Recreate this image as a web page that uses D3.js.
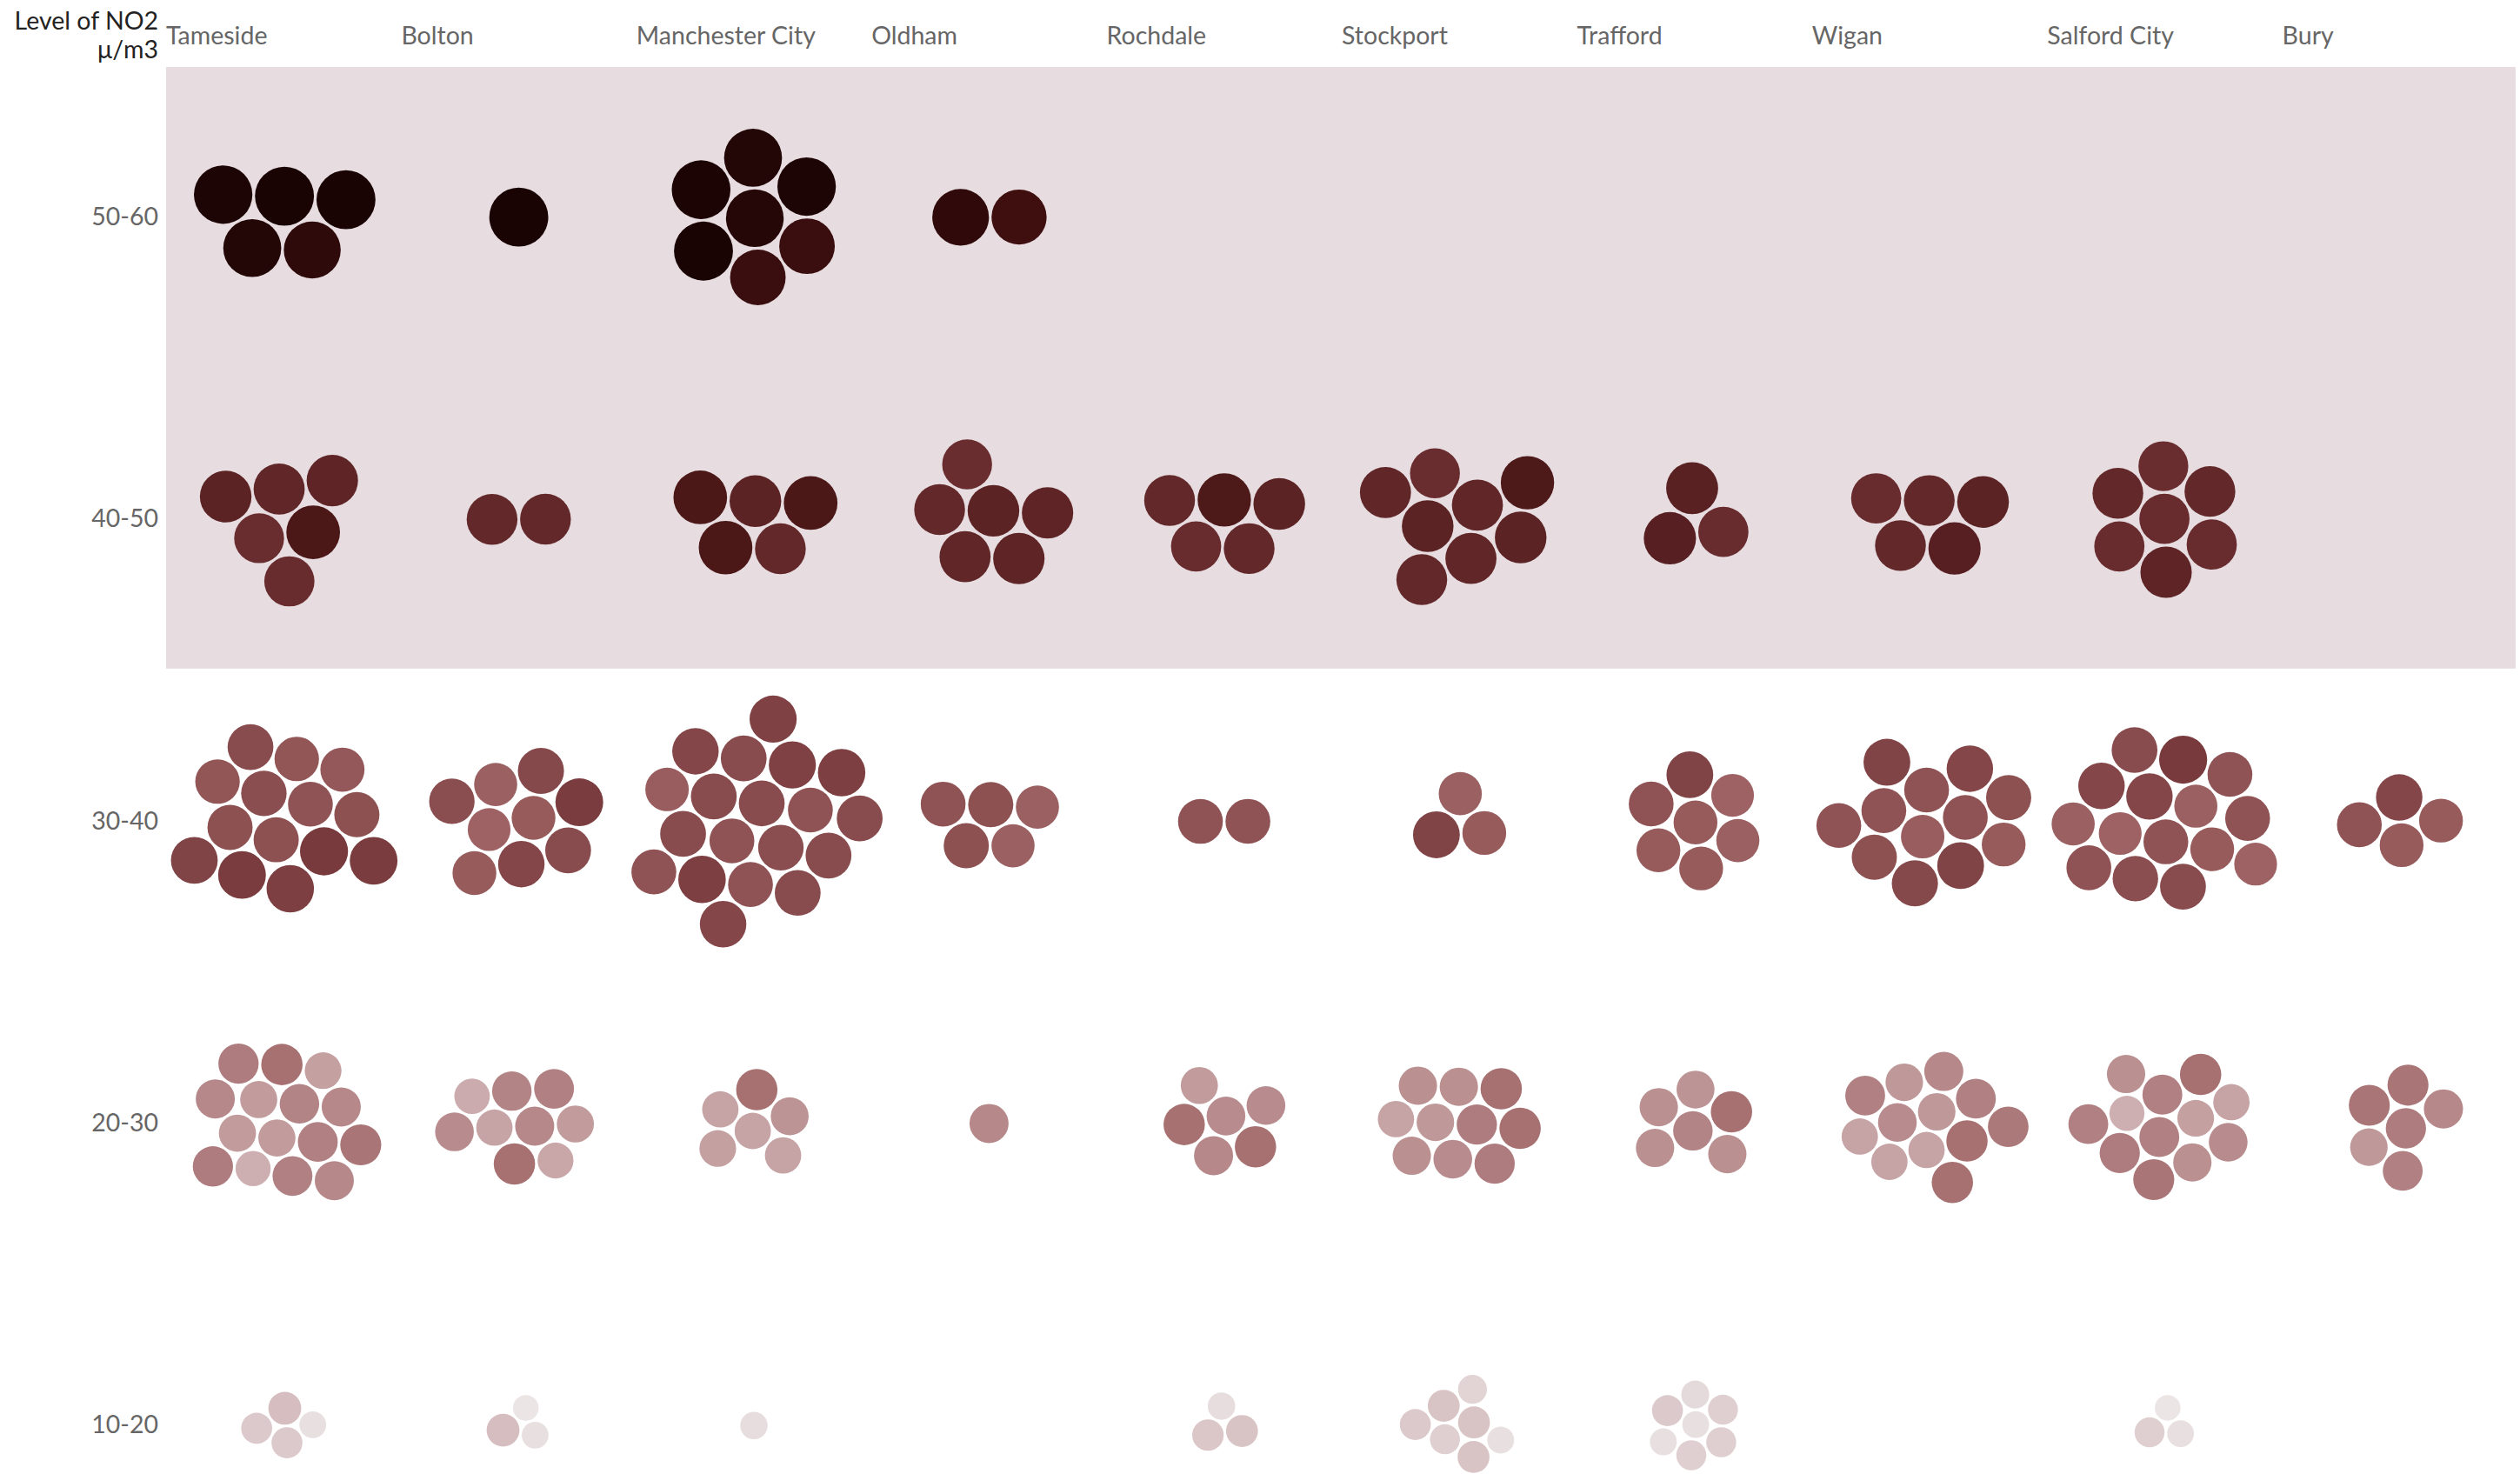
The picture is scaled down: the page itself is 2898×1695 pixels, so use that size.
<!DOCTYPE html>
<html>
<head>
<meta charset="utf-8">
<script src="https://cdn.jsdelivr.net/npm/d3@7"></script>
<style>
  body { margin: 0; background: #fff; }
  text { font-family: Lato, "Open Sans", sans-serif; }
</style>
</head>
<body>
<div id="chart"></div>
<script>
var boroughs = ["Tameside", "Bolton", "Manchester City", "Oldham", "Rochdale",
                "Stockport", "Trafford", "Wigan", "Salford City", "Bury"];
var bands = ["50-60", "40-50", "30-40", "20-30", "10-20"];

// NO2 readings per site, one list per borough (same order as boroughs)
var no2_50_60 = [
  [58, 56, 58, 54, 57],
  [58],
  [55.5, 58, 56, 51.5, 57.5, 57, 51.5],
  [50.5, 53.5],
  [], [], [], [], [], []
];
var no2_40_50 = [
  [48, 41.5, 43.5, 42, 44.5, 44],
  [43, 43],
  [48, 48, 44.5, 43, 48],
  [44.5, 43.5, 41.5, 44, 43, 44],
  [44.5, 42, 47.5, 43, 43],
  [44.5, 44.5, 43.5, 43.5, 43.5, 47.5, 43, 41.5],
  [42, 45.5, 45],
  [44.5, 43, 43, 45.5, 42],
  [42, 42, 41.5, 42, 43, 43, 44],
  []
];
var no2_30_40 = [
  [33.5, 34, 34.5, 38.5, 34, 32.5, 38, 35, 38, 36.5, 33, 37.5, 33, 34],
  [32, 30.5, 35.5, 36, 34.5, 38, 32, 31, 35],
  [34.5, 33.5, 35, 33.5, 35, 33.5, 37.5, 35, 35, 35, 37, 36, 36, 35, 33.5, 37, 35, 31.5, 37.5],
  [31, 34, 34, 31, 33.5],
  [33.5, 33.5],
  [32, 36.5, 31],
  [32, 32, 36.5, 31, 33.5, 30.5, 32],
  [33.5, 31.5, 33.5, 36.5, 33.5, 34, 34, 36.5, 32, 33.5, 36, 35.5],
  [31, 33.5, 36, 32, 30.5, 33.5, 34.5, 35, 30.5, 31, 38.5, 35, 36, 33.5, 33.5],
  [32, 33.5, 36, 32]
];
var no2_20_30 = [
  [26, 23, 23, 26.5, 23, 22.5, 26.5, 27, 28, 27, 28.5, 25.5, 25.5, 25.5, 20.5],
  [25.5, 22, 26, 21.5, 25, 26.5, 28.5, 21, 23],
  [22, 22.5, 28.5, 22, 22, 24],
  [25.5],
  [25, 25.5, 23, 28.5, 28.5, 25],
  [27, 23.5, 24.5, 27, 22, 28.5, 25, 24.5, 28.5, 24.5],
  [26, 24.5, 24, 24.5, 24.5, 28.5],
  [23.5, 22, 23.5, 28.5, 25, 26.5, 22, 26.5, 27.5, 22, 25.5, 28.5],
  [22.5, 26.5, 26.5, 24.5, 20.5, 22, 27, 24.5, 25, 26.5, 28.5, 28],
  [27, 23.5, 28, 26.5, 28, 25.5]
];
var no2_10_20 = [
  [12, 16, 18, 16],
  [12, 18, 11],
  [12.5],
  [],
  [17, 16.5, 12.5],
  [17, 15, 17, 12, 16, 14, 17],
  [12, 12, 13, 15, 16, 15, 15],
  [],
  [12, 15, 11],
  []
];
var readings = [no2_50_60, no2_40_50, no2_30_40, no2_20_30, no2_10_20];

var width = 2898, height = 1695;

var svg = d3.select("#chart").append("svg")
  .attr("width", width)
  .attr("height", height);

var x = d3.scaleBand().domain(boroughs).range([191, 2895]);
var y = d3.scaleBand().domain(bands).range([76, 1813]);

var r = d3.scaleSqrt().domain([0, 60]).range([0, 34.5]);
var color = d3.scaleLinear()
  .domain([10, 20, 30, 40, 50, 60])
  .range(["#eeeaeb", "#d0b3b5", "#a06566", "#713235", "#421010", "#0f0000"]);

// shaded area for levels above 40
svg.append("rect")
  .attr("x", x.range()[0])
  .attr("y", y("50-60") + 1)
  .attr("width", x.range()[1] - x.range()[0] - 2)
  .attr("height", y("40-50") + y.bandwidth() - y("50-60") - 3)
  .style("fill", "#e7dde1");

// column labels
var xAxis = svg.append("g")
  .attr("transform", "translate(0,41)")
  .call(d3.axisTop(x).tickSize(0).tickPadding(0));
xAxis.select(".domain").remove();
xAxis.selectAll("text")
  .attr("x", -x.bandwidth() / 2)
  .attr("y", 0)
  .attr("dy", "0.35em")
  .attr("text-anchor", "start")
  .style("font-size", "28.5px")
  .style("fill", "#666")
  .style("font-family", "Lato, sans-serif");

// row labels
var yAxis = svg.append("g")
  .attr("transform", "translate(182,0)")
  .call(d3.axisLeft(y).tickSize(0).tickPadding(0));
yAxis.select(".domain").remove();
yAxis.selectAll("text")
  .style("font-size", "28.5px")
  .style("fill", "#666")
  .style("font-family", "Lato, sans-serif");

// header
svg.append("text")
  .attr("x", 182).attr("y", 24).attr("dy", "0.35em")
  .attr("text-anchor", "end")
  .style("font-size", "28.5px").style("fill", "#222")
  .text("Level of NO2");
svg.append("text")
  .attr("x", 182).attr("y", 57).attr("dy", "0.35em")
  .attr("text-anchor", "end")
  .style("font-size", "28.5px").style("fill", "#222")
  .text("μ/m3");

// one packed cluster per borough and band
bands.forEach(function(band, bi) {
  boroughs.forEach(function(b, ci) {
    var nodes = readings[bi][ci].map(function(v) { return { value: v, r: r(v) }; });
    if (nodes.length == 0) return;

    var sim = d3.forceSimulation(nodes)
      .alphaDecay(0.01)
      .force("x", d3.forceX(0).strength(0.07))
      .force("y", d3.forceY(0).strength(0.1))
      .force("collide", d3.forceCollide(function(d) { return d.r + 1.5; }).iterations(4))
      .stop();
    for (var i = 0; i < 700; i++) sim.tick();

    svg.append("g")
      .attr("transform", "translate(" + (x(b) + x.bandwidth() / 2) + "," + (y(band) + y.bandwidth() / 2) + ")")
      .selectAll("circle")
      .data(nodes)
      .enter()
      .append("circle")
        .attr("cx", function(d) { return d.x; })
        .attr("cy", function(d) { return d.y; })
        .attr("r", function(d) { return d.r; })
        .style("fill", function(d) { return color(d.value); });
  });
});
</script>
</body>
</html>
